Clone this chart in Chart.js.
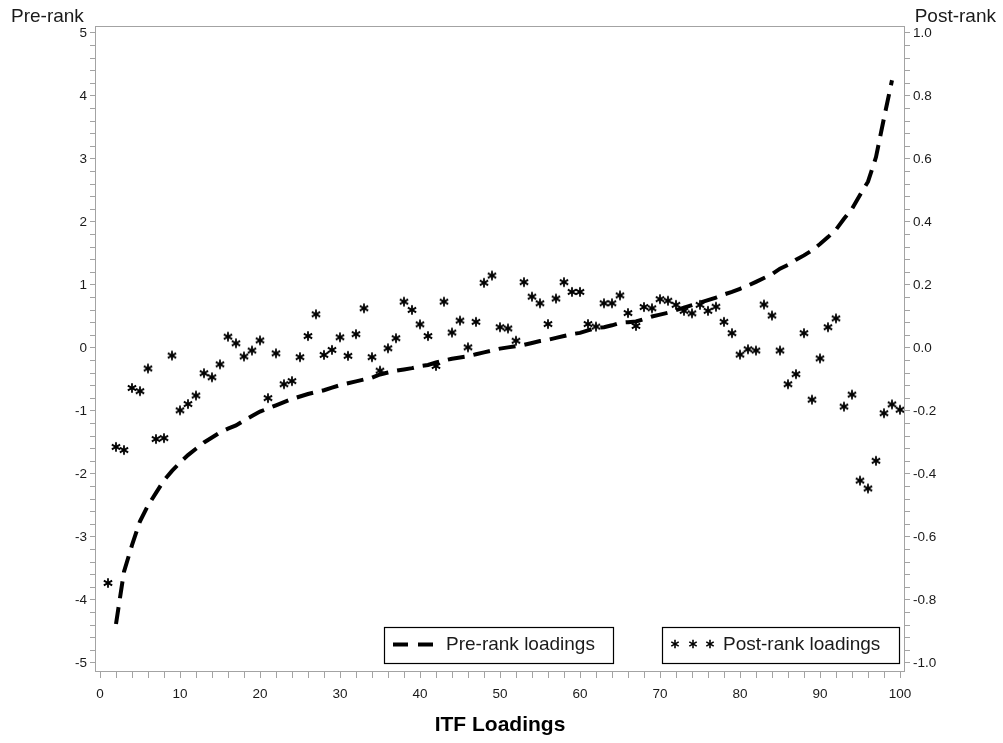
<!DOCTYPE html>
<html>
<head>
<meta charset="utf-8">
<script src="https://cdn.jsdelivr.net/npm/chart.js@4.4.1/dist/chart.umd.min.js"></script>
<style>
  html, body { margin: 0; padding: 0; background: #ffffff; }
  #wrap { width: 1003px; height: 743px; }
</style>
</head>
<body>
<div id="wrap"><canvas id="c" width="1003" height="743"></canvas></div>
<script>
// ---- data ----
const itemIndex = [1,2,3,4,5,6,7,8,9,10,11,12,13,14,15,16,17,18,19,20,21,22,23,24,25,26,27,28,29,30,31,32,33,34,35,36,37,38,39,40,41,42,43,44,45,46,47,48,49,50,51,52,53,54,55,56,57,58,59,60,61,62,63,64,65,66,67,68,69,70,71,72,73,74,75,76,77,78,79,80,81,82,83,84,85,86,87,88,89,90,91,92,93,94,95,96,97,98,99,100];

const preRankLoadings = [null,-4.38,-3.55,-3.13,-2.75,-2.50,-2.30,-2.10,-1.95,-1.82,-1.70,-1.60,-1.50,-1.42,-1.34,-1.28,-1.23,-1.15,-1.08,-1.01,-0.96,-0.91,-0.86,-0.81,-0.77,-0.73,-0.70,-0.67,-0.63,-0.59,-0.56,-0.53,-0.50,-0.47,-0.42,-0.39,-0.36,-0.34,-0.32,-0.29,-0.27,-0.23,-0.20,-0.17,-0.15,-0.13,-0.10,-0.07,-0.04,-0.01,0.01,0.03,0.05,0.08,0.11,0.13,0.16,0.19,0.22,0.24,0.28,0.32,0.33,0.36,0.40,0.41,0.42,0.46,0.50,0.53,0.56,0.60,0.64,0.68,0.72,0.76,0.80,0.85,0.89,0.94,0.99,1.05,1.11,1.17,1.26,1.32,1.40,1.47,1.55,1.65,1.76,1.88,2.05,2.21,2.43,2.64,3.03,3.65,4.25,null];

const postRankLoadings = [-0.746,-0.314,-0.324,-0.127,-0.137,-0.065,-0.289,-0.286,-0.024,-0.198,-0.178,-0.151,-0.080,-0.093,-0.052,0.036,0.015,-0.027,-0.008,0.024,-0.159,-0.017,-0.115,-0.105,-0.029,0.038,0.107,-0.022,-0.006,0.034,-0.025,0.044,0.126,-0.029,-0.072,-0.001,0.031,0.147,0.121,0.075,0.038,-0.057,0.147,0.049,0.087,0.002,0.083,0.207,0.230,0.066,0.062,0.023,0.209,0.163,0.142,0.076,0.157,0.209,0.178,0.178,0.076,0.068,0.142,0.142,0.167,0.111,0.070,0.130,0.126,0.155,0.150,0.137,0.118,0.110,0.137,0.118,0.131,0.083,0.047,-0.021,-0.004,-0.008,0.138,0.103,-0.008,-0.115,-0.083,0.047,-0.164,-0.033,0.066,0.094,-0.186,-0.148,-0.421,-0.446,-0.358,-0.207,-0.179,-0.196];

const xTickLabels = ['0','10','20','30','40','50','60','70','80','90','100'];
const preRankTickLabels = ['-5','-4','-3','-2','-1','0','1','2','3','4','5'];
const postRankTickLabels = ['-1.0','-0.8','-0.6','-0.4','-0.2','0.0','0.2','0.4','0.6','0.8','1.0'];

const xTitle = 'ITF Loadings';
const leftTitle = 'Pre-rank';
const rightTitle = 'Post-rank';
const preLegend = 'Pre-rank loadings';
const postLegend = 'Post-rank loadings';

// ---- styling ----
const FONT = '"Liberation Sans", Arial, Helvetica, sans-serif';
const AXIS_GRAY = '#a3a3a3';
const TEXT = '#1a1a1a';

// asterisk marker
function makeAsterisk(r, w) {
  const c = document.createElement('canvas');
  c.width = 12; c.height = 12;
  const g = c.getContext('2d');
  g.strokeStyle = '#000';
  g.lineWidth = w;
  g.lineCap = 'butt';
  const cx = 6, cy = 6;
  for (const a of [90, 30, 150]) {
    const rad = a * Math.PI / 180;
    const dx = r * Math.cos(rad), dy = r * Math.sin(rad);
    g.beginPath();
    g.moveTo(cx - dx, cy - dy);
    g.lineTo(cx + dx, cy + dy);
    g.stroke();
  }
  return c;
}
const asterisk = makeAsterisk(4.8, 1.8);
const legendAsterisk = makeAsterisk(4.3, 1.6);

function tickList(min, max, step) {
  const n = Math.round((max - min) / step);
  const out = [];
  for (let i = 0; i <= n; i++) out.push({ value: Math.round((min + i * step) * 1000) / 1000 });
  return out;
}
function labelFor(value, labels) {
  for (const l of labels) {
    if (Math.abs(parseFloat(l) - value) < 1e-6) return l;
  }
  return '';
}

const framePlugin = {
  id: 'frame',
  afterDraw(chart) {
    const { ctx, chartArea: a } = chart;
    ctx.save();
    ctx.strokeStyle = AXIS_GRAY;
    ctx.lineWidth = 1;
    ctx.strokeRect(a.left + 0.5, a.top + 0.5, a.right - a.left - 1, a.bottom - a.top - 1);

    ctx.fillStyle = TEXT;
    ctx.font = '19px ' + FONT;
    ctx.textBaseline = 'alphabetic';
    ctx.textAlign = 'left';
    ctx.fillText(leftTitle, 11, 22);
    ctx.textAlign = 'right';
    ctx.fillText(rightTitle, 996, 22);

    ctx.strokeStyle = '#000';
    ctx.lineWidth = 1.2;
    ctx.strokeRect(384.5, 627.5, 229, 36);
    ctx.strokeRect(662.5, 627.5, 237, 36);

    ctx.lineWidth = 4;
    ctx.lineCap = 'butt';
    ctx.beginPath();
    ctx.moveTo(393, 644.5); ctx.lineTo(408, 644.5);
    ctx.moveTo(418, 644.5); ctx.lineTo(433, 644.5);
    ctx.stroke();

    for (const x of [675, 693, 710]) {
      ctx.drawImage(legendAsterisk, x - 6, 644 - 6);
    }

    ctx.fillStyle = TEXT;
    ctx.font = '19px ' + FONT;
    ctx.textAlign = 'left';
    ctx.textBaseline = 'middle';
    ctx.fillText(preLegend, 446, 645);
    ctx.fillText(postLegend, 723, 645);
    ctx.restore();
  }
};

new Chart(document.getElementById('c'), {
  type: 'line',
  data: {
    datasets: [
      {
        label: preLegend,
        data: itemIndex.map((x, i) => ({ x: x, y: preRankLoadings[i] })),
        yAxisID: 'y',
        borderColor: '#000',
        borderWidth: 4,
        borderDash: [17, 9],
        borderCapStyle: 'butt',
        pointRadius: 0,
        tension: 0,
        fill: false,
        spanGaps: false
      },
      {
        label: postLegend,
        data: itemIndex.map((x, i) => ({ x: x, y: postRankLoadings[i] })),
        yAxisID: 'y2',
        showLine: false,
        pointStyle: asterisk,
        pointRadius: 5,
        pointHoverRadius: 5,
        borderColor: '#000',
        backgroundColor: '#000'
      }
    ]
  },
  options: {
    responsive: false,
    animation: false,
    devicePixelRatio: 1,
    events: [],
    layout: { padding: { top: 26, left: 0, right: 0, bottom: 0 } },
    plugins: { legend: { display: false }, tooltip: { enabled: false }, title: { display: false } },
    scales: {
      x: {
        type: 'linear',
        position: 'bottom',
        min: -0.625,
        max: 100.625,
        afterBuildTicks: s => { s.ticks = tickList(0, 100, 2); },
        afterFit: s => { s.height = 71; },
        border: { display: false },
        grid: { display: true, drawOnChartArea: false, drawTicks: true, tickLength: 6, color: AXIS_GRAY, tickColor: AXIS_GRAY },
        ticks: {
          autoSkip: false, maxRotation: 0, minRotation: 0, padding: 8,
          color: TEXT, font: { family: FONT, size: 13.5 },
          callback: v => labelFor(v, xTickLabels)
        },
        title: {
          display: true, text: xTitle, color: '#000',
          font: { family: FONT, size: 21, weight: 'bold' },
          padding: { top: 0, bottom: 5 }
        }
      },
      y: {
        type: 'linear',
        position: 'left',
        min: -5.143,
        max: 5.111,
        afterBuildTicks: s => { s.ticks = tickList(-5, 5, 0.2); },
        afterFit: s => { s.width = 95; },
        border: { display: false },
        grid: { display: true, drawOnChartArea: false, drawTicks: true, tickLength: 5, color: AXIS_GRAY, tickColor: AXIS_GRAY },
        ticks: {
          autoSkip: false, padding: 3,
          color: TEXT, font: { family: FONT, size: 13.5 },
          callback: v => labelFor(v, preRankTickLabels)
        }
      },
      y2: {
        type: 'linear',
        position: 'right',
        min: -1.0286,
        max: 1.0222,
        afterBuildTicks: s => { s.ticks = tickList(-1, 1, 0.04); },
        afterFit: s => { s.width = 98; },
        border: { display: false },
        grid: { display: true, drawOnChartArea: false, drawTicks: true, tickLength: 5, color: AXIS_GRAY, tickColor: AXIS_GRAY },
        ticks: {
          autoSkip: false, padding: 3,
          color: TEXT, font: { family: FONT, size: 13.5 },
          callback: v => labelFor(v, postRankTickLabels)
        }
      }
    }
  },
  plugins: [framePlugin]
});
</script>
</body>
</html>
